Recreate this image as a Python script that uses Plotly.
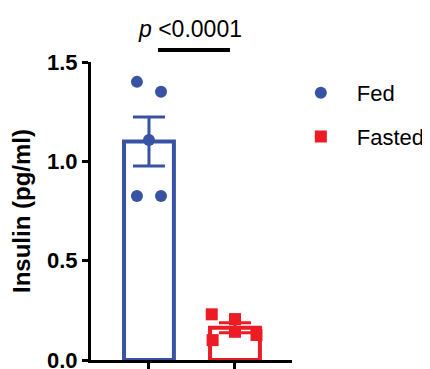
import plotly.graph_objects as go

# ---- data ----
groups = ["Fed", "Fasted"]
fed_values = [1.40, 1.35, 1.107, 0.825, 0.825]
fasted_values = [0.23, 0.206, 0.142, 0.10, 0.126]
fed_offsets = [-0.14, 0.14, 0.0, -0.14, 0.14]
fasted_offsets = [-0.27, 0.0, 0.0, -0.26, 0.25]
group_means = [1.10, 0.162]
group_sems = [0.123, 0.025]
y_ticks = [0.0, 0.5, 1.0, 1.5]
p_label = "<i>p</i> &lt;0.0001"

BLUE = "#3853A4"
RED = "#ED1C24"
FONT = "Arial, Liberation Sans, sans-serif"

colors = [BLUE, RED]
symbols = ["circle", "square"]
point_sets = [fed_values, fasted_values]
offset_sets = [fed_offsets, fasted_offsets]

fig = go.Figure()

# bars (open, coloured outline)
for i, g in enumerate(groups):
    fig.add_trace(go.Bar(
        x=[i], y=[group_means[i]], width=0.58,
        marker=dict(color="white", line=dict(color=colors[i], width=4)),
        showlegend=False, hoverinfo="skip",
    ))

# error bars (SEM)
for i, g in enumerate(groups):
    fig.add_trace(go.Scatter(
        x=[i], y=[group_means[i]], mode="markers",
        marker=dict(size=1, opacity=0),
        error_y=dict(type="data", array=[group_sems[i]], symmetric=True,
                     thickness=3, width=16, color=colors[i]),
        showlegend=False, hoverinfo="skip",
    ))

# individual points
for i, g in enumerate(groups):
    xs = [i + o for o in offset_sets[i]]
    fig.add_trace(go.Scatter(
        x=xs, y=point_sets[i], mode="markers", name=g,
        legendgroup=g,
        marker=dict(color=colors[i], size=12, symbol=symbols[i], line=dict(width=0)),
    ))

# significance bracket + label
fig.add_shape(type="line", xref="x", yref="paper",
              x0=0.105, x1=0.942, y0=1.04, y1=1.04,
              line=dict(color="black", width=4))
fig.add_annotation(text=p_label, xref="x", yref="paper", x=0.477, y=1.112,
                   xanchor="center", yanchor="middle", showarrow=False,
                   font=dict(family=FONT, size=23, color="black"))

# page body has an 8px margin, so the figure is sized 8px smaller
fig.update_layout(
    width=422, height=361,
    margin=dict(l=83, r=138, t=54, b=9, autoexpand=False),
    paper_bgcolor="white", plot_bgcolor="white",
    font=dict(family=FONT, color="black"),
    barmode="overlay",
    legend=dict(xref="container", yref="container", x=0.656, y=0.8227,
                xanchor="left", yanchor="top",
                font=dict(family=FONT, size=22, color="black"),
                itemwidth=62, tracegroupgap=12, bgcolor="rgba(0,0,0,0)"),
    xaxis=dict(range=[-0.674, 1.663], tickvals=[0, 1], showticklabels=False,
               ticks="outside", ticklen=6, tickwidth=3, tickcolor="black",
               showline=True, linewidth=3, linecolor="black",
               showgrid=False, zeroline=False, fixedrange=True),
    yaxis=dict(range=[0, 1.5], tickvals=y_ticks, tickformat=".1f",
               ticklabeloverflow="allow",
               ticks="outside", ticklen=6, tickwidth=3, tickcolor="black",
               showline=True, linewidth=3, linecolor="black",
               showgrid=False, zeroline=False,
               tickfont=dict(family=FONT, size=22, weight="bold", color="black"),
               title=dict(text="Insulin (pg/ml)", standoff=12,
                          font=dict(family=FONT, size=24, weight="bold", color="black"))),
)

fig.write_html("out.html")
